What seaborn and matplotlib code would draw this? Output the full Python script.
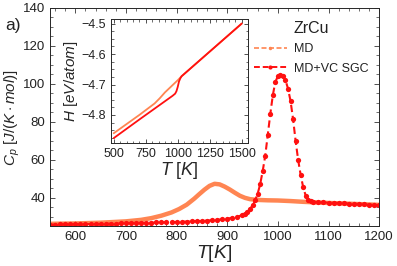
import numpy as np
import pandas as pd
import matplotlib
matplotlib.use("Agg")
import matplotlib.pyplot as plt
import seaborn as sns
from matplotlib.lines import Line2D
from matplotlib.ticker import MultipleLocator

# Cp curves (main axes)
t_md = [550, 600, 650, 700, 730, 750, 770, 790, 805, 820, 835, 845, 855, 865, 875,
        885, 895, 905, 915, 925, 935, 945, 960, 980, 1000, 1025, 1050, 1075, 1100,
        1150, 1200]
cp_md = [26.2, 26.4, 26.8, 27.5, 28.3, 29.2, 30.5, 32.2, 34.0, 36.3, 39.5, 41.9, 44.2,
         46.2, 47.3, 47.0, 45.8, 44.3, 42.6, 41.0, 39.9, 39.2, 38.8, 38.6, 38.5, 38.2,
         37.8, 37.5, 37.2, 36.7, 36.2]

t_sgc = [550, 560, 570, 580, 590, 600, 610, 620, 630, 640, 650, 660, 670, 680, 690,
         700, 710, 720, 730, 740, 750, 760, 770, 780, 790, 800, 810, 820, 830, 840,
         850, 860, 870, 880, 890, 900, 910, 920, 930, 935, 940, 945, 950, 955, 960,
         965, 970, 975, 980, 985, 990, 995, 1000, 1005, 1010, 1015, 1020, 1025, 1030,
         1035, 1040, 1045, 1050, 1055, 1060, 1065, 1070, 1080, 1090, 1100, 1110, 1120,
         1130, 1140, 1150, 1160, 1170, 1180, 1190, 1200]
cp_sgc = [25.8, 25.8, 25.9, 25.9, 25.9, 26.0, 26.0, 26.0, 26.1, 26.1, 26.2, 26.2, 26.3,
          26.3, 26.4, 26.5, 26.5, 26.6, 26.7, 26.7, 26.8, 26.9, 26.9, 27.0, 27.1, 27.2,
          27.3, 27.4, 27.5, 27.6, 27.7, 27.9, 28.1, 28.3, 28.6, 28.9, 29.4, 30.0, 30.8,
          31.5, 32.5, 34.0, 36.0, 38.5, 42.0, 47.0, 54.0, 62.0, 73.0, 84.0, 94.0, 101.0,
          104.0, 104.8, 104.0, 102.0, 97.5, 91.0, 81.5, 70.0, 60.0, 52.0, 45.5, 41.0,
          38.8, 38.0, 37.8, 37.6, 37.5, 37.3, 37.2, 37.1, 37.0, 36.9, 36.8, 36.6, 36.5,
          36.3, 36.2, 36.0]

# enthalpy curves (inset)
th_md = [500, 700, 820, 860, 900, 1000, 1030, 1250, 1500]
h_md = [-4.860, -4.800, -4.762, -4.745, -4.726, -4.686, -4.673, -4.592, -4.500]
th_sgc = [500, 700, 900, 960, 980, 990, 1000, 1010, 1020, 1030, 1250, 1500]
h_sgc = [-4.876, -4.815, -4.755, -4.737, -4.730, -4.722, -4.708, -4.690, -4.680,
         -4.673, -4.592, -4.500]

c_md = "#ff8552"
c_sgc = "#ff1010"

sns.set_style("ticks")
plt.rcParams["font.family"] = ["Liberation Sans", "DejaVu Sans"]
plt.rcParams["mathtext.fontset"] = "custom"
plt.rcParams["mathtext.rm"] = "Liberation Sans"
plt.rcParams["mathtext.it"] = "Liberation Sans:italic"
plt.rcParams["axes.linewidth"] = 0.7
plt.rcParams["text.color"] = "#222222"

fig = plt.figure(figsize=(3.97, 2.66), dpi=100)
ax = fig.add_axes([0.126, 0.150, 0.829, 0.820])

df_md = pd.DataFrame({"T": t_md, "Cp": cp_md})
df_sgc = pd.DataFrame({"T": t_sgc, "Cp": cp_sgc})
sns.lineplot(data=df_md, x="T", y="Cp", ax=ax, color=c_md, lw=3.2, solid_capstyle="round")
sns.lineplot(data=df_sgc, x="T", y="Cp", ax=ax, color=c_sgc, lw=1.5,
             linestyle=(0, (3.5, 1.8)), marker="o", markersize=3.8, markeredgewidth=0)

ax.set_xlim(550, 1200)
ax.set_ylim(25, 140)
ax.xaxis.set_major_locator(MultipleLocator(100))
ax.xaxis.set_minor_locator(MultipleLocator(20))
ax.yaxis.set_minor_locator(MultipleLocator(5))
ax.set_yticks([40, 60, 80, 100, 120, 140])
ax.tick_params(which="both", direction="in", top=True, right=True, labelsize=9.5,
               colors="#333333", labelcolor="#222222")
ax.tick_params(which="major", length=3.5, width=0.6)
ax.tick_params(which="minor", length=2, width=0.5)
ax.set_xlabel("$T[K]$", fontsize=14, labelpad=0)
ax.set_ylabel(r"$C_p\ [J/(K\cdot mol)]$", fontsize=11, labelpad=1)

handles = [Line2D([], [], color=c_md, lw=1.2, ls=(0, (3, 1.5)), marker="o", markersize=2.5,
                  markeredgewidth=0),
           Line2D([], [], color=c_sgc, lw=1.4, ls=(0, (3, 1.5)), marker="o", markersize=3,
                  markeredgewidth=0)]
leg = ax.legend(handles, ["MD", "MD+VC SGC"], title="ZrCu", frameon=False,
                loc="upper left", bbox_to_anchor=(0.605, 0.965), fontsize=9,
                title_fontsize=11.5, handlelength=2.6, handletextpad=0.6,
                borderaxespad=0, labelspacing=0.6)

fig.text(0.012, 0.905, "a)", fontsize=12.5, va="center")

ins = fig.add_axes([0.280, 0.4624, 0.345, 0.4662])
sns.lineplot(x=th_md, y=h_md, ax=ins, color=c_md, lw=1.3)
sns.lineplot(x=th_sgc, y=h_sgc, ax=ins, color=c_sgc, lw=1.3)
ins.set_xlim(480, 1550)
ins.set_ylim(-4.892, -4.485)
ins.xaxis.set_major_locator(MultipleLocator(250))
ins.xaxis.set_minor_locator(MultipleLocator(50))
ins.yaxis.set_major_locator(MultipleLocator(0.1))
ins.yaxis.set_minor_locator(MultipleLocator(0.025))
ins.tick_params(which="both", direction="in", top=True, right=True, labelsize=9,
                colors="#333333", labelcolor="#222222")
ins.tick_params(which="major", length=3, width=0.6)
ins.tick_params(which="minor", length=1.8, width=0.5)
ins.set_xlabel(r"$T\ [K]$", fontsize=13, labelpad=0)
ins.set_ylabel(r"$H\ [eV/atom]$", fontsize=11, labelpad=1)

fig.savefig("out.png", dpi=100)
